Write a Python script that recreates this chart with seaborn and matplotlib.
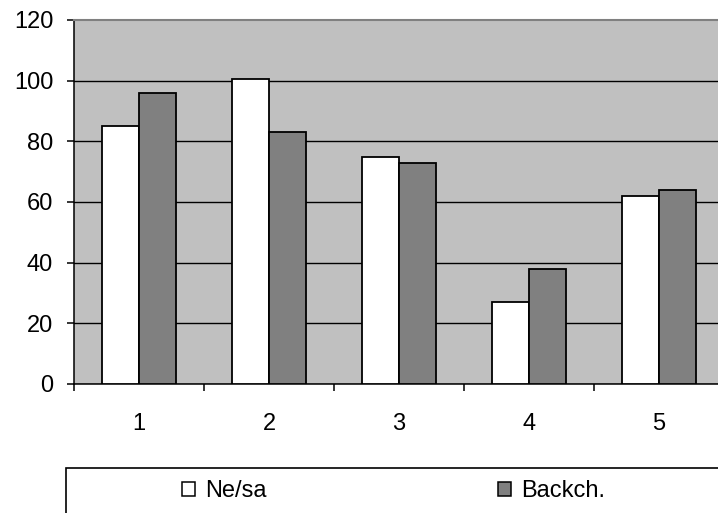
"""Grouped bar chart: Ne/sa vs Backch. over five trials."""

import matplotlib
matplotlib.use("Agg")
import matplotlib.pyplot as plt
from matplotlib.patches import Rectangle, Patch
from matplotlib.ticker import FixedLocator, MultipleLocator
import pandas as pd
import seaborn as sns

# Values
trials = ["1", "2", "3", "4", "5"]
nesa = [85, 100.5, 75, 27, 62]
backch = [96, 83, 73, 38, 64]
series_names = ["Ne/sa", "Backch."]
series_colors = ["#FFFFFF", "#808080"]
y_ticks = [0, 20, 40, 60, 80, 100, 120]

df = pd.DataFrame({
    "trial": trials * 2,
    "value": nesa + backch,
    "series": [series_names[0]] * len(trials) + [series_names[1]] * len(trials),
})

plt.rcParams["font.family"] = ["Liberation Sans", "DejaVu Sans"]
FS = 17

W, H = 718, 513
fig = plt.figure(figsize=(W / 100, H / 100), dpi=100)
# plot area runs past the right edge of the canvas, like the original
ax = fig.add_axes([74 / W, (H - 384) / H, 650 / W, 364 / H])
ax.set_facecolor("#C0C0C0")

sns.barplot(
    data=df, x="trial", y="value", hue="series",
    hue_order=series_names, palette=series_colors,
    width=0.57, edgecolor="black", linewidth=1.3,
    errorbar=None, legend=False, ax=ax, zorder=3,
)

ax.set_xlim(-0.5, 4.5)
ax.set_ylim(0, 120)
ax.set_xlabel("")
ax.set_ylabel("")

# y axis
ax.yaxis.set_major_locator(FixedLocator(y_ticks))
ax.set_yticklabels([str(t) for t in y_ticks])
ax.tick_params(axis="y", which="major", length=5, width=1.1, color="black",
               pad=10, labelsize=FS, direction="out")

# x axis: labels at centers, tick marks at category boundaries
ax.xaxis.set_minor_locator(MultipleLocator(1, offset=0.5))
ax.tick_params(axis="x", which="major", length=0, pad=21, labelsize=FS)
ax.tick_params(axis="x", which="minor", length=5, width=1.1, color="black",
               direction="out")

ax.set_axisbelow(True)
ax.yaxis.grid(True, color="black", linewidth=1.0)
ax.get_ygridlines()[-1].set_visible(False)

for side in ["left", "bottom"]:
    ax.spines[side].set_color("black")
    ax.spines[side].set_linewidth(1.1)
ax.spines["top"].set_color("#808080")
ax.spines["top"].set_linewidth(1.5)
ax.spines["right"].set_visible(False)

# legend box, cut off at bottom and right like the reference
fig.patches.append(Rectangle(
    (66 / W, -0.05), 1.0, (H - 468) / H + 0.05,
    transform=fig.transFigure, fill=False, edgecolor="black",
    linewidth=1.2, clip_on=False,
))

handles = [Patch(facecolor=c, edgecolor="black", linewidth=1.1) for c in series_colors]
fig.legend(
    handles, series_names, ncol=2, frameon=False,
    loc="center left", bbox_to_anchor=(182 / W, 1 - 491 / H),
    fontsize=FS, handlelength=0.55, handleheight=0.55,
    handletextpad=0.42, columnspacing=9.8, borderpad=0, borderaxespad=0,
)

fig.savefig("out.png", dpi=100)
plt.close(fig)
